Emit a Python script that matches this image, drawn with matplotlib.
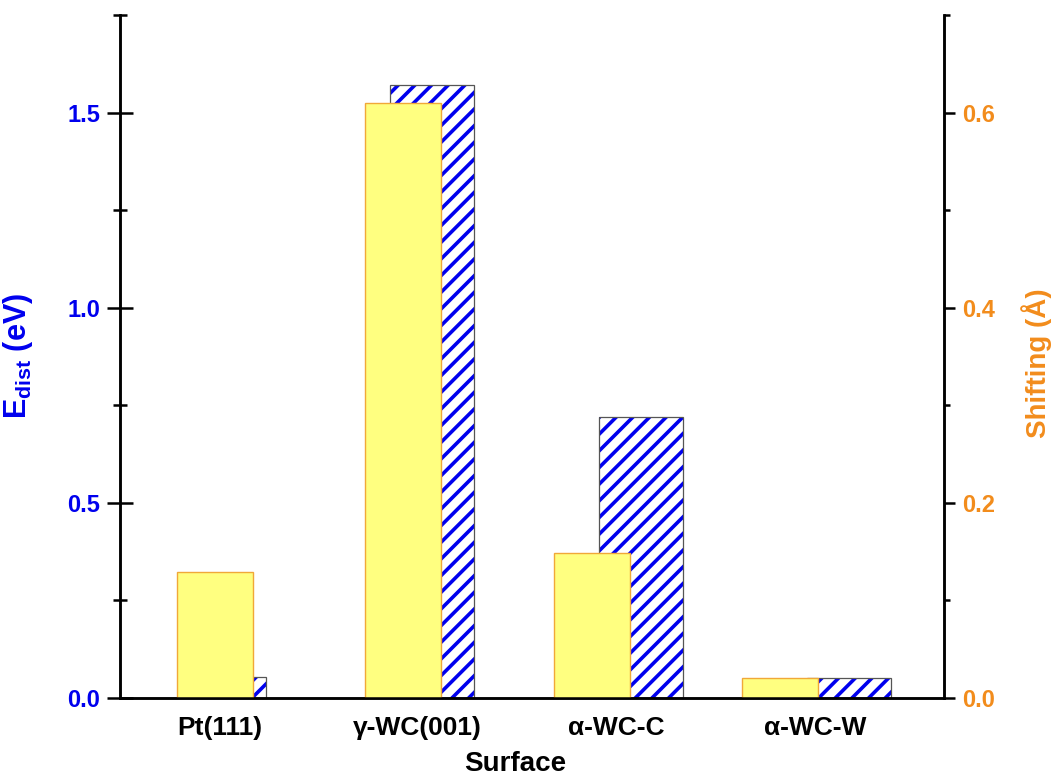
import matplotlib
matplotlib.use('Agg')
import matplotlib.pyplot as plt
import numpy as np

# 字体：Arial 风格粗体
plt.rcParams['font.family'] = ['Liberation Sans', 'DejaVu Sans']
plt.rcParams['font.weight'] = 'bold'
plt.rcParams['mathtext.fontset'] = 'custom'
plt.rcParams['mathtext.bf'] = 'Liberation Sans:bold'
plt.rcParams['hatch.linewidth'] = 2.6

# 数据
surfaces = ['Pt(111)', 'γ-WC(001)', 'α-WC-C', 'α-WC-W']
e_dist = [0.055, 1.57, 0.72, 0.05]        # eV, 左轴，蓝色斜线
shifting = [0.129, 0.61, 0.149, 0.02]     # Å, 右轴，黄色

blue = '#0000EE'
orange = '#F28C1C'

x = np.arange(len(surfaces))
x_shift = -0.022 + 0.937 * x
x_edist = 0.025 + 1.035 * x

fig = plt.figure(figsize=(10.53, 7.76), dpi=100)
ax = fig.add_axes([0.114, 0.1005, 0.7825, 0.8802])
ax2 = ax.twinx()

# 斜线柱（先画斜线，再画边框）
ax.bar(x_edist, e_dist, width=0.417, facecolor='white', edgecolor=blue,
       linewidth=0, hatch='//')
ax.bar(x_edist, e_dist, width=0.417, fill=False, edgecolor='#555555', linewidth=0.9)

# 黄色柱在上层
ax2.bar(x_shift, shifting, width=0.378, facecolor='#FFFF80', edgecolor='#F0A838',
        linewidth=1.0)

ax.set_xlim(-0.492, 3.602)
ax.set_ylim(0, 1.75)
ax2.set_ylim(0, 0.7)

ax.set_xticks((x_shift + x_edist) / 2)
ax.set_xticklabels(surfaces, fontsize=19, fontweight='bold')
ax.tick_params(axis='x', length=0, pad=13)

ax.set_yticks([0, 0.5, 1.0, 1.5])
ax.set_yticks([0.25, 0.75, 1.25, 1.75], minor=True)
ax.tick_params(axis='y', which='major', direction='inout', length=18.5, width=1.8,
               labelsize=17, labelcolor=blue, pad=5)
ax.tick_params(axis='y', which='minor', direction='inout', length=9.5, width=1.8)

ax2.set_yticks([0, 0.2, 0.4, 0.6])
ax2.set_yticks([0.1, 0.3, 0.5, 0.7], minor=True)
ax2.tick_params(axis='y', which='major', direction='out', length=8, width=1.8,
                labelsize=17, labelcolor=orange, pad=5)
ax2.tick_params(axis='y', which='minor', direction='out', length=4.5, width=1.8)

for a in (ax, ax2):
    a.spines['top'].set_visible(False)
    for s in ('left', 'right', 'bottom'):
        a.spines[s].set_linewidth(1.8)

ax.set_yticklabels(['0.0', '0.5', '1.0', '1.5'], fontweight='bold')
ax2.set_yticklabels(['0.0', '0.2', '0.4', '0.6'], fontweight='bold')

ax.set_xlabel('Surface', fontsize=20, fontweight='bold')
ax.xaxis.set_label_coords(0.48, -0.078)
ax.set_ylabel(r'$\mathbf{E_{dist}}$ (eV)', fontsize=22, fontweight='bold', color=blue)
ax.yaxis.set_label_coords(-0.103, 0.5)
ax2.set_ylabel('Shifting (Å)', fontsize=20, fontweight='bold', color=orange, rotation=90)
ax2.yaxis.set_label_coords(1.094, 0.49)

fig.savefig('out.png', dpi=100)
